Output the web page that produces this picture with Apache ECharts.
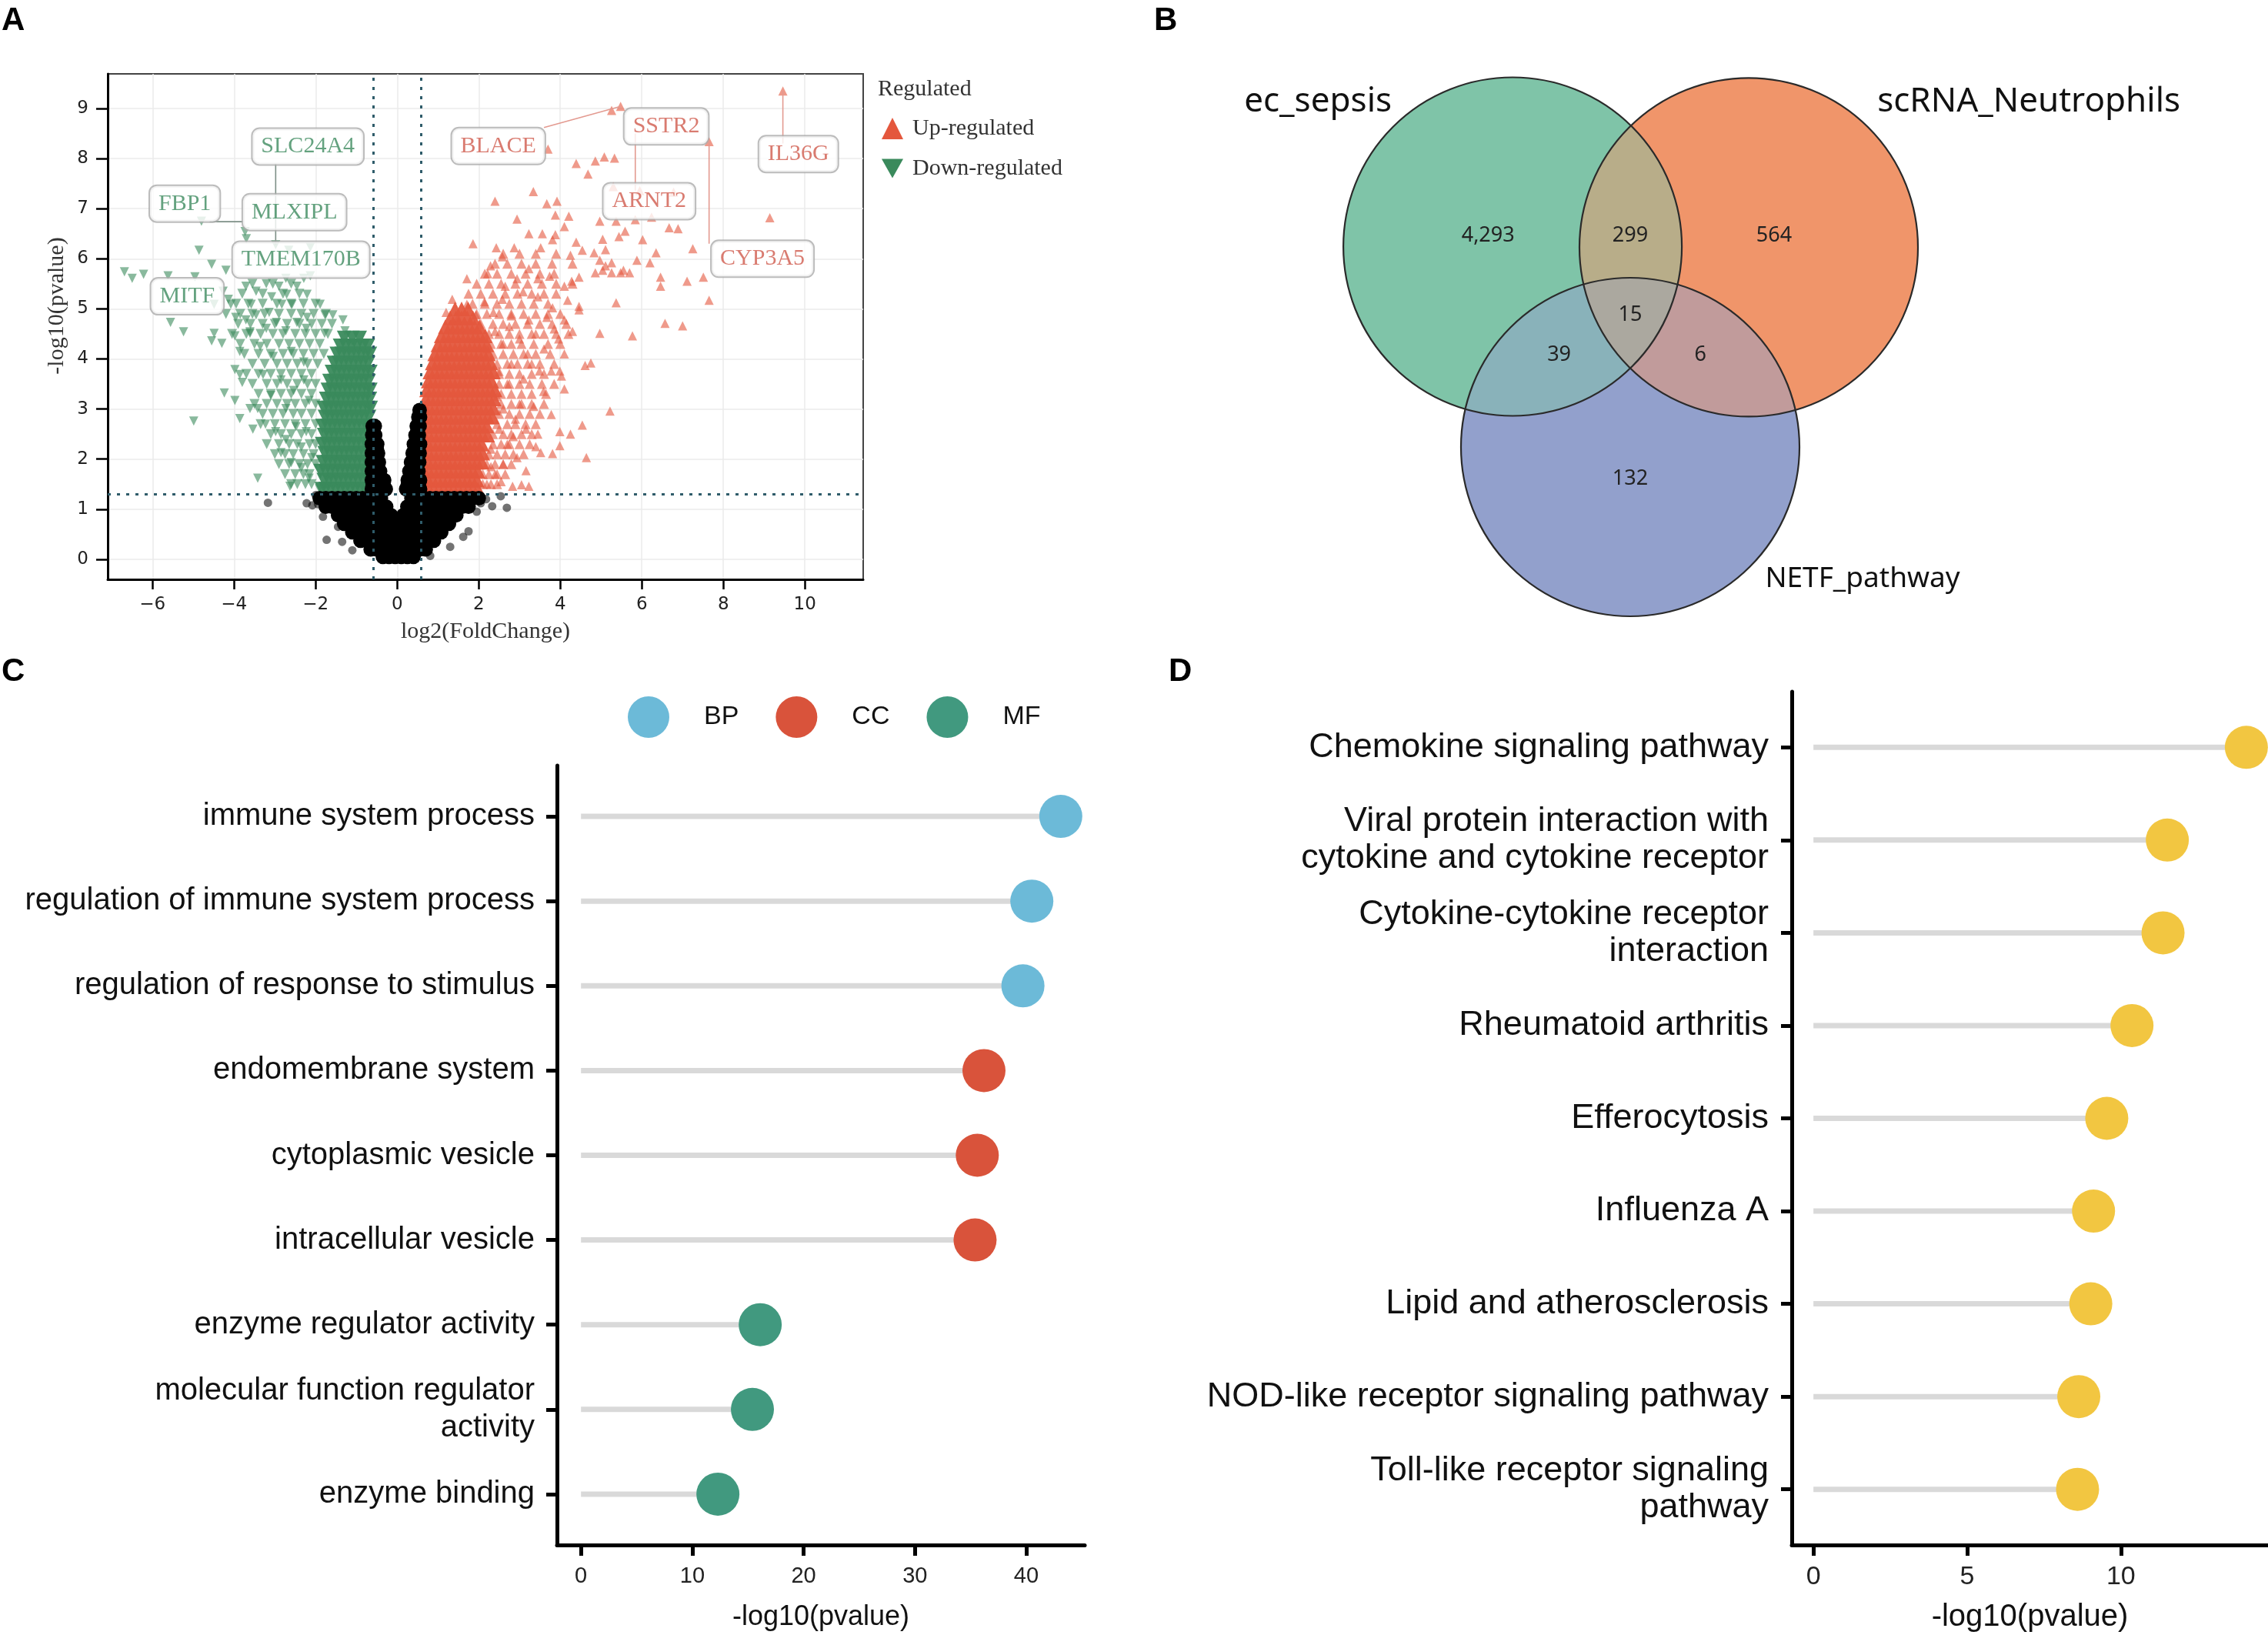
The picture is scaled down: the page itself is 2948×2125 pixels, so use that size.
<!DOCTYPE html>
<html><head><meta charset="utf-8">
<script src="https://cdn.jsdelivr.net/npm/echarts@6/dist/echarts.min.js"></script>
<style>html,body{margin:0;padding:0;background:#fff}#main{width:2948px;height:2125px}</style>
</head><body><div id="main"></div>
<script>
// ================= Panel A : volcano =================
const volcanoXTicks = [-6,-4,-2,0,2,4,6,8,10];
const volcanoYTicks = [0,1,2,3,4,5,6,7,8,9];
const fcCutoff = 0.585;
const pCutoff = 1.301;

const upScatter = [
[9.46,9.35],[5.48,9.04],[7.65,8.34],[5.26,8.96],[3.70,8.19],[4.39,7.90],[4.68,7.69],[4.86,7.95],[5.08,8.03],[5.33,8.01],
[3.34,7.34],[2.40,7.15],[3.67,7.10],[3.92,7.15],[2.94,6.79],[3.88,6.87],[4.21,6.85],[9.14,6.82],[6.67,6.62],[6.89,6.60],
[1.86,6.30],[3.23,6.50],[3.56,6.50],[7.25,6.20],[6.02,6.38],[6.35,6.12],[5.88,5.97],[6.20,5.92],[6.46,5.63],[6.46,5.45],
[7.11,5.55],[7.51,5.63],[7.65,5.17],[5.37,5.12],[6.57,4.71],[7.00,4.66],[5.30,7.44],[5.95,7.36],[6.78,7.33],[4.97,6.75],
[5.37,6.75],[5.59,6.55],[5.84,6.78],[6.24,6.83],[5.04,6.39],[5.44,6.44],[5.11,6.18],[5.26,5.92],[5.70,5.72],[4.86,5.72],
[5.04,5.77],[5.26,5.72],[5.48,5.72],[4.46,5.63],[4.28,5.55],[4.10,5.45],[4.18,5.17],[4.46,5.05],[3.81,5.02],
[1.71,5.60],[2.29,5.86],[2.43,6.22],[2.58,6.04],[2.87,6.22],[3.52,6.22],[3.81,6.38],[3.88,6.48],[4.10,6.64],[4.39,6.33],
[4.54,6.17],[4.25,6.07],[4.83,6.12],[4.97,5.97],[5.11,5.86],[5.55,5.77],[3.23,5.80],[2.94,5.60],[3.45,5.60],[3.74,5.65],
[2.22,5.70],[2.65,5.45],[3.09,5.34],[3.45,5.24],[2.58,5.19],[2.14,5.14],[1.71,5.09],[1.35,5.19],[1.20,4.93],[1.49,4.83],
[1.93,4.88],[2.36,4.93],[2.80,4.86],[3.23,4.78],[3.67,4.83],[4.10,4.78],[4.46,4.98],
[4.97,4.51],[5.77,4.46],[5.22,2.96],[4.64,2.03],[4.54,2.68],[4.25,2.50],[3.99,2.55],[3.99,2.27],[3.81,2.11],[4.75,3.92],
[4.61,3.87],[4.10,3.40],[4.03,3.66],[3.78,2.89],[3.59,3.35],[3.45,2.50],[3.49,3.76],[3.78,3.76],[3.99,3.76],[4.10,4.10],
[3.96,4.40],[2.83,1.46],[3.05,1.49],[3.23,1.46],[3.16,1.77],[2.94,2.03],[3.52,2.13],[3.16,2.60],
[2.20,1.50],[2.40,1.70],[2.60,1.90],[2.30,2.20],[2.70,2.30],[2.50,2.60],[2.90,2.80],[2.60,3.00],[3.00,3.10],[2.70,3.50],
[3.10,3.60],[2.80,3.90],[3.20,4.10],[2.60,4.30],[3.00,4.40],[3.40,4.50],[2.40,4.55],[2.20,4.20],[2.50,3.75],[2.45,3.25],
[3.30,3.90],[3.60,4.20],[3.85,4.60],[4.30,4.55],[2.75,4.65],[3.35,3.05],[2.85,2.45],[2.30,1.85],[2.55,1.55],[3.40,2.25]
];
const upMidRows = [
[1.50,[2.10,2.30,2.45]],
[1.70,[2.10,2.25,2.45,2.65]],
[1.90,[2.20,2.40,2.60,2.80]],
[2.10,[2.25,2.45,2.65,2.85,3.10]],
[2.30,[2.35,2.55,2.75,3.00,3.25]],
[2.50,[2.35,2.60,2.80,3.05,3.30]],
[2.70,[2.45,2.70,2.90,3.15,3.40]],
[2.90,[2.50,2.75,3.00,3.25,3.50]],
[3.10,[2.55,2.80,3.05,3.30,3.60]],
[3.30,[2.55,2.80,3.05,3.30,3.65]],
[3.50,[2.50,2.75,3.00,3.25,3.55,3.85]],
[3.70,[2.50,2.75,3.00,3.30,3.60]],
[3.90,[2.45,2.70,2.95,3.20,3.50,3.85]],
[4.10,[2.35,2.60,2.85,3.10,3.40,3.75]],
[4.30,[2.30,2.55,2.80,3.05,3.35,3.70,4.00]],
[4.50,[2.25,2.50,2.75,3.00,3.30,3.60,3.90,4.20]],
[4.70,[2.05,2.35,2.60,2.90,3.20,3.50,3.80,4.15]],
[4.90,[1.95,2.20,2.50,2.80,3.10,3.40,3.70,4.00]],
[5.10,[1.85,2.15,2.45,2.75,3.05,3.35,3.70]],
[5.30,[1.75,2.05,2.35,2.65,2.95,3.30,3.60,3.90]],
[5.50,[1.95,2.25,2.55,2.90,3.20,3.55,3.90,4.30]],
[5.70,[2.15,2.45,2.80,3.15,3.50,3.85]],
[5.90,[2.40,2.70,3.05,3.40,3.80,4.30]],
[6.10,[2.60,3.00,3.40,3.90]]
];
const upCoreRows = [
[1.40,[0.66,0.78,0.90,1.02,1.14,1.26,1.38,1.50,1.62,1.74,1.86,1.98]],
[1.58,[0.64,0.76,0.88,1.00,1.12,1.24,1.36,1.48,1.60,1.72,1.84,1.96]],
[1.76,[0.66,0.78,0.90,1.02,1.14,1.26,1.38,1.50,1.62,1.74,1.86,1.98]],
[1.94,[0.64,0.76,0.88,1.00,1.12,1.24,1.36,1.48,1.60,1.72,1.84,1.96,2.08]],
[2.12,[0.66,0.78,0.90,1.02,1.14,1.26,1.38,1.50,1.62,1.74,1.86,1.98,2.10]],
[2.30,[0.64,0.76,0.88,1.00,1.12,1.24,1.36,1.48,1.60,1.72,1.84,1.96,2.08]],
[2.48,[0.66,0.78,0.90,1.02,1.14,1.26,1.38,1.50,1.62,1.74,1.86,1.98,2.10,2.22]],
[2.66,[0.64,0.76,0.88,1.00,1.12,1.24,1.36,1.48,1.60,1.72,1.84,1.96,2.08,2.20]],
[2.84,[0.66,0.78,0.90,1.02,1.14,1.26,1.38,1.50,1.62,1.74,1.86,1.98,2.10,2.22,2.34]],
[3.02,[0.68,0.80,0.92,1.04,1.16,1.28,1.40,1.52,1.64,1.76,1.88,2.00,2.12,2.24,2.36]],
[3.20,[0.70,0.82,0.94,1.06,1.18,1.30,1.42,1.54,1.66,1.78,1.90,2.02,2.14,2.26,2.38]],
[3.38,[0.72,0.84,0.96,1.08,1.20,1.32,1.44,1.56,1.68,1.80,1.92,2.04,2.16,2.28,2.40]],
[3.56,[0.76,0.88,1.00,1.12,1.24,1.36,1.48,1.60,1.72,1.84,1.96,2.08,2.20,2.32]],
[3.74,[0.80,0.92,1.04,1.16,1.28,1.40,1.52,1.64,1.76,1.88,2.00,2.12,2.24,2.36]],
[3.92,[0.86,0.98,1.10,1.22,1.34,1.46,1.58,1.70,1.82,1.94,2.06,2.18,2.30]],
[4.10,[0.92,1.04,1.16,1.28,1.40,1.52,1.64,1.76,1.88,2.00,2.12,2.24]],
[4.28,[1.00,1.12,1.24,1.36,1.48,1.60,1.72,1.84,1.96,2.08,2.20]],
[4.46,[1.08,1.20,1.32,1.44,1.56,1.68,1.80,1.92,2.04,2.16]],
[4.64,[1.18,1.30,1.42,1.54,1.66,1.78,1.90,2.02]],
[4.82,[1.30,1.44,1.58,1.72,1.86]],
[5.00,[1.42,1.58,1.74]]
];
const downScatter = [
[-6.69,5.74],[-6.50,5.61],[-6.22,5.69],[-5.62,5.66],[-4.96,5.64],[-4.80,6.75],[-4.86,6.17],[-4.55,5.89],[-3.73,6.54],[-3.70,6.40],
[-4.20,5.77],[-5.56,4.73],[-5.24,4.54],[-4.49,5.09],[-2.98,6.28],[-2.66,6.17],[-2.13,6.23],[-2.29,5.61],[-2.73,5.61],[-2.13,5.66],
[-3.71,5.45],[-3.46,5.35],[-3.21,5.50],[-2.90,5.45],[-2.71,5.29],[-2.46,5.45],[-2.21,5.29],[-1.89,5.09],[-1.58,4.88],[-1.33,4.78],
[-2.83,5.09],[-3.14,4.93],[-3.46,4.88],[-3.71,4.78],[-4.08,5.09],[-3.96,4.83],[-4.27,5.35],[-4.14,5.19],[-3.08,5.24],[-2.58,5.09],
[-2.21,4.83],[-1.77,4.88],[-2.46,4.73],[-2.96,4.73],[-3.58,5.09],
[-4.49,4.51],[-3.61,4.51],[-3.21,4.61],[-2.73,4.56],[-2.23,4.61],[-1.78,4.51],[-1.28,4.56],[-3.86,4.15],[-3.36,4.25],[-3.04,4.05],
[-2.60,4.15],[-2.29,3.94],[-3.29,3.69],[-2.85,3.58],[-2.54,3.37],[-3.10,3.27],[-2.73,3.01],[-3.23,2.70],[-2.98,2.55],[-2.73,2.39],
[-2.48,2.65],[-2.35,2.24],[-2.85,2.13],[-2.60,1.93],[-2.35,1.83],[-2.16,1.62],[-2.10,2.03],[-2.23,2.55],[-2.16,3.17],[-2.29,3.58],
[-1.91,1.41],[-1.72,1.62],[-4.99,2.76],[-4.24,3.32],[-3.98,3.17],[-3.86,2.81],[-3.54,2.60],[-3.42,1.62],[-2.63,1.46],[-4.55,4.36],
[-4.30,4.31],[-3.98,4.46],[-3.61,4.54],[-3.98,3.79],[-3.86,3.69],[-3.80,3.53],[-3.61,3.01],[-3.42,3.01]
];
const downMidRows = [
[1.50,[-2.10,-2.25,-2.45,-2.60]],
[1.70,[-2.15,-2.30,-2.50,-2.75]],
[1.90,[-2.00,-2.20,-2.40,-2.65,-2.90]],
[2.10,[-2.05,-2.30,-2.55,-2.75,-3.00]],
[2.30,[-2.00,-2.15,-2.45,-2.65,-2.90,-3.20]],
[2.50,[-2.10,-2.35,-2.60,-2.85,-3.10]],
[2.70,[-2.00,-2.25,-2.50,-2.75,-3.00,-3.35]],
[2.90,[-2.10,-2.35,-2.55,-2.80,-3.05,-3.30]],
[3.10,[-2.00,-2.25,-2.50,-2.70,-2.95,-3.20,-3.50]],
[3.30,[-2.10,-2.35,-2.60,-2.85,-3.10,-3.40]],
[3.50,[-2.00,-2.20,-2.45,-2.70,-2.95,-3.20,-3.55]],
[3.70,[-2.10,-2.35,-2.60,-2.85,-3.10,-3.40,-3.70]],
[3.90,[-1.95,-2.20,-2.45,-2.70,-2.95,-3.25,-3.55]],
[4.10,[-1.80,-2.05,-2.30,-2.55,-2.80,-3.10,-3.40,-3.75]],
[4.30,[-1.90,-2.15,-2.40,-2.65,-2.90,-3.20,-3.50,-3.85]],
[4.50,[-1.70,-2.00,-2.25,-2.50,-2.80,-3.05,-3.35,-3.70,-4.05]],
[4.70,[-1.60,-1.85,-2.10,-2.40,-2.70,-3.00,-3.30,-3.60,-3.90]],
[4.90,[-1.75,-2.05,-2.35,-2.60,-2.90,-3.25,-3.55,-3.85,-4.20]],
[5.10,[-2.00,-2.30,-2.60,-2.95,-3.30,-3.65,-3.95]],
[5.30,[-2.40,-2.80,-3.30,-3.80]],
[5.50,[-2.60,-3.05,-3.55]]
];
const downCoreRows = [
[1.40,[-1.85,-1.75,-1.63,-1.51,-1.39,-1.27,-1.15,-1.03,-0.91,-0.79,-0.67]],
[1.58,[-1.80,-1.68,-1.56,-1.44,-1.32,-1.20,-1.08,-0.96,-0.84,-0.72,-0.65]],
[1.76,[-1.88,-1.76,-1.64,-1.52,-1.40,-1.28,-1.16,-1.04,-0.92,-0.80,-0.68]],
[1.94,[-1.82,-1.70,-1.58,-1.46,-1.34,-1.22,-1.10,-0.98,-0.86,-0.74,-0.66]],
[2.12,[-1.78,-1.66,-1.54,-1.42,-1.30,-1.18,-1.06,-0.94,-0.82,-0.70]],
[2.30,[-1.84,-1.72,-1.60,-1.48,-1.36,-1.24,-1.12,-1.00,-0.88,-0.76,-0.66]],
[2.48,[-1.79,-1.67,-1.55,-1.43,-1.31,-1.19,-1.07,-0.95,-0.83,-0.71]],
[2.66,[-1.83,-1.71,-1.59,-1.47,-1.35,-1.23,-1.11,-0.99,-0.87,-0.75,-0.66]],
[2.84,[-1.77,-1.65,-1.53,-1.41,-1.29,-1.17,-1.05,-0.93,-0.81,-0.69]],
[3.02,[-1.80,-1.68,-1.56,-1.44,-1.32,-1.20,-1.08,-0.96,-0.84,-0.72,-0.65]],
[3.20,[-1.74,-1.62,-1.50,-1.38,-1.26,-1.14,-1.02,-0.90,-0.78,-0.67]],
[3.38,[-1.70,-1.58,-1.46,-1.34,-1.22,-1.10,-0.98,-0.86,-0.74,-0.66]],
[3.56,[-1.66,-1.54,-1.42,-1.30,-1.18,-1.06,-0.94,-0.82,-0.70]],
[3.74,[-1.60,-1.48,-1.36,-1.24,-1.12,-1.00,-0.88,-0.76,-0.66]],
[3.92,[-1.55,-1.43,-1.31,-1.19,-1.07,-0.95,-0.83,-0.71]],
[4.10,[-1.48,-1.36,-1.24,-1.12,-1.00,-0.88,-0.76,-0.67]],
[4.26,[-1.40,-1.26,-1.12,-0.98,-0.84,-0.72]],
[4.42,[-1.30,-1.10,-0.92]]
];
const nsScatter = [
[-3.17,1.13],[-2.22,1.12],[-2.08,1.08],[-1.94,1.10],[-1.82,0.85],[-1.73,0.39],[-1.45,0.65],[-1.70,1.18],[-1.90,1.24],[-2.00,1.28],
[2.54,1.26],[2.69,1.03],[2.33,1.06],[2.18,1.20],[2.05,1.12],[1.75,0.56],[0.81,0.07],[1.95,0.95],[1.62,0.45],[-1.35,0.35],
[1.30,0.25],[-1.10,0.18]
];
const nsCoreRows = [
[1.22,[-1.90,-1.75,-1.60,-1.45,-1.30,-1.15,-1.00,-0.85,-0.70,-0.55,-0.40,0.35,0.50,0.65,0.80,0.95,1.10,1.25,1.40,1.55,1.70,1.85,2.00]],
[1.05,[-1.75,-1.60,-1.45,-1.30,-1.15,-1.00,-0.85,-0.70,-0.55,-0.40,-0.27,0.25,0.40,0.55,0.70,0.85,1.00,1.15,1.30,1.45,1.60,1.75]],
[0.88,[-1.45,-1.30,-1.15,-1.00,-0.85,-0.70,-0.55,-0.40,-0.25,-0.15,0.15,0.25,0.40,0.55,0.70,0.85,1.00,1.15,1.30,1.45]],
[0.71,[-1.30,-1.15,-1.00,-0.85,-0.70,-0.55,-0.40,-0.25,-0.12,0.10,0.22,0.37,0.52,0.67,0.82,0.97,1.12,1.27]],
[0.54,[-1.10,-0.95,-0.80,-0.65,-0.50,-0.35,-0.20,-0.08,0.06,0.18,0.33,0.48,0.63,0.78,0.93,1.08]],
[0.37,[-0.90,-0.75,-0.60,-0.45,-0.30,-0.15,0.00,0.15,0.30,0.45,0.60,0.75,0.90]],
[0.20,[-0.65,-0.50,-0.35,-0.20,-0.05,0.10,0.25,0.40,0.55,0.70]],
[0.05,[-0.35,-0.20,-0.05,0.10,0.25,0.40]],
[1.40,[-0.62,-0.50,-0.38,-0.28,0.22,0.34,0.46,0.56]],
[1.49,[-0.60,-0.46,-0.33,0.26,0.40,0.53]],
[1.58,[-0.62,-0.51,-0.40,-0.32,0.26,0.37,0.48,0.56]],
[1.76,[-0.62,-0.52,-0.42,0.30,0.41,0.52]],
[1.85,[-0.58,-0.47,0.36,0.48]],
[1.94,[-0.62,-0.53,-0.45,0.34,0.44,0.54]],
[2.12,[-0.62,-0.54,-0.47,0.38,0.47,0.55]],
[2.21,[-0.58,-0.50,0.44,0.52]],
[2.30,[-0.62,-0.55,-0.49,0.41,0.49,0.56]],
[2.48,[-0.61,-0.54,0.45,0.53]],
[2.57,[-0.58,0.50]],
[2.66,[-0.60,-0.55,0.48,0.55]],
[2.84,[0.52,0.56]],
[2.98,[0.55]]
];
const labelGenes = ['SLC24A4','FBP1','MLXIPL','TMEM170B','MITF','BLACE','SSTR2','ARNT2','IL36G','CYP3A5'];
const labelRegulation = ['down','down','down','down','down','up','up','up','up','up'];
const labelPoints = [[-2.98,6.28],[-3.79,6.74],[-3.70,6.51],[-2.66,6.17],[-4.49,5.09],[5.48,9.04],[5.84,7.36],[6.10,7.00],[9.46,9.35],[7.65,8.34]];
// layout of the repelled label boxes (data units)
const labelBoxAt = [[-2.19,8.24],[-5.21,7.10],[-2.52,6.93],[-2.36,5.98],[-5.15,5.25],[2.48,8.25],[6.60,8.64],[6.18,7.15],[9.84,8.09],[8.96,6.00]];
const labelSegEnd = [[-2.98,7.9],[-4.6,6.74],null,null,null,[3.6,8.62],[5.84,8.5],null,[9.46,8.3],[7.65,6.3]];

// ================= Panel B : Venn =================
const vennSets = ['ec_sepsis','scRNA_Neutrophils','NETF_pathway'];
const vennRegionSets = [[0],[0,1],[1],[0,1,2],[0,2],[1,2],[2]];
const vennCounts = [4293,299,564,15,39,6,132];

// ================= Panel C : GO =================
const goTerms = ['immune system process','regulation of immune system process','regulation of response to stimulus','endomembrane system','cytoplasmic vesicle','intracellular vesicle','enzyme regulator activity','molecular function regulator\nactivity','enzyme binding'];
const goValues = [43.1,40.5,39.7,36.2,35.6,35.4,16.1,15.4,12.3];
const goClass = ['BP','BP','BP','CC','CC','CC','MF','MF','MF'];
const goClassNames = ['BP','CC','MF'];
const goTicks = [0,10,20,30,40];

// ================= Panel D : KEGG =================
const keggTerms = ['Chemokine signaling pathway','Viral protein interaction with\ncytokine and cytokine receptor','Cytokine-cytokine receptor\ninteraction','Rheumatoid arthritis','Efferocytosis','Influenza A','Lipid and atherosclerosis','NOD-like receptor signaling pathway','Toll-like receptor signaling\npathway'];
const keggValues = [14.08,11.51,11.37,10.36,9.54,9.11,9.02,8.63,8.59];
const keggTicks = [0,5,10];

// ---------------- styles / layout ----------------
const UP = '#e4573d', DOWN = '#3a8a5c';
const SERIF = '"Liberation Serif", "Times New Roman", serif';
const SANS = '"Liberation Sans", Arial, sans-serif';
const DJ = '"DejaVu Sans", sans-serif';
const VENNF = '"Noto Sans", "Open Sans", sans-serif';
const goColors = {BP:'#6cbad8', CC:'#d9533b', MF:'#41997f'};
const keggColor = '#f2c641';
const vennColors = ['#7fc4a8','#f0956a','#92a0cc'];
const vennCircleAt = [[-0.695,1.184],[0.70,1.18],[0,0]];
const vennR = 1.0;
const vennCountAt = [[-0.84,1.25],[0,1.25],[0.85,1.25],[0,0.78],[-0.42,0.545],[0.415,0.545],[0,-0.19]];
const vennNameAt = [[-1.845,2.04],[2.355,2.04],[1.373,-0.78]];
const vennNameSize = [44,44,37];
const downTri = 'path://M0,0L10,0L5,9Z';

const flatten = rows => rows.flatMap(r => r[1].map(x => [x, r[0]]));

function hex(c){ return [parseInt(c.slice(1,3),16),parseInt(c.slice(3,5),16),parseInt(c.slice(5,7),16)]; }
function mixColors(idx){
  const s=[0,0,0]; idx.forEach(i=>{const c=hex(vennColors[i]); s[0]+=c[0];s[1]+=c[1];s[2]+=c[2];});
  return 'rgb('+s.map(v=>Math.round(v/idx.length)).join(',')+')';
}
function regionPoly(idx, api){
  const pts=[]; const N=720;
  idx.forEach(i=>{
    const c=vennCircleAt[i];
    for(let k=0;k<N;k++){
      const a=k/N*2*Math.PI; const p=[c[0]+vennR*Math.cos(a), c[1]+vennR*Math.sin(a)];
      const ok = idx.every(j=> j===i || ((p[0]-vennCircleAt[j][0])**2+(p[1]-vennCircleAt[j][1])**2 <= vennR*vennR+1e-9));
      if(ok) pts.push(api.coord(p));
    }
  });
  let cx=0,cy=0; pts.forEach(p=>{cx+=p[0];cy+=p[1];}); cx/=pts.length; cy/=pts.length;
  pts.sort((a,b)=>Math.atan2(a[1]-cy,a[0]-cx)-Math.atan2(b[1]-cy,b[0]-cx));
  return pts;
}
function renderVenn(params, api){
  const children=[];
  const rpx = api.size([vennR, vennR])[0];
  vennCircleAt.forEach((c,i)=>{ const p=api.coord(c); children.push({type:'circle',shape:{cx:p[0],cy:p[1],r:rpx},style:{fill:vennColors[i]}}); });
  [[0,1],[0,2],[1,2],[0,1,2]].forEach(idx=>{
    children.push({type:'polygon',shape:{points:regionPoly(idx,api)},style:{fill:mixColors(idx)}});
  });
  vennCircleAt.forEach((c,i)=>{ const p=api.coord(c); children.push({type:'circle',shape:{cx:p[0],cy:p[1],r:rpx},style:{fill:'none',stroke:'#2a2a2a',lineWidth:2.2}}); });
  vennCounts.forEach((n,i)=>{ const p=api.coord(vennCountAt[i]);
    children.push({type:'text',x:p[0],y:p[1],style:{text:n.toLocaleString('en-US'),fill:'#222',fontSize:27,fontFamily:VENNF,align:'center',verticalAlign:'middle',textAlign:'center',textVerticalAlign:'middle'}}); });
  vennSets.forEach((s,i)=>{ const p=api.coord(vennNameAt[i]);
    children.push({type:'text',x:p[0],y:p[1],style:{text:s,fill:'#111',fontSize:vennNameSize[i],fontFamily:VENNF,align:'center',verticalAlign:'middle',textAlign:'center',textVerticalAlign:'middle'}}); });
  return {type:'group',children};
}
function renderSeg(params, api){
  const p0=api.coord([api.value(0),api.value(1)]), p1=api.coord([api.value(2),api.value(3)]);
  return {type:'line',shape:{x1:p0[0],y1:p0[1],x2:p1[0],y2:p1[1]},style:{stroke:api.value(4)===1?'#e39a90':'#7d8f86',lineWidth:1.6}};
}
function renderStick(params, api){
  const p0=api.coord([0,api.value(1)]), p1=api.coord([api.value(0),api.value(1)]);
  return {type:'line',shape:{x1:p0[0],y1:p0[1],x2:p1[0],y2:p1[1]},style:{stroke:'#d9d9d9',lineWidth:7}};
}

const minus = v => String(v).replace('-', '\u2212');
const goMax = Math.max(...goValues), keggMax = Math.max(...keggValues);

const option = {
  animation:false,
  backgroundColor:'#fff',
  grid:[
    {left:140, top:96, width:982, height:657, show:true, borderColor:'#444', borderWidth:2, outerBoundsMode:'none'},
    {left:1459, top:53, width:1320, height:792, outerBoundsMode:'none'},
    {left:724, top:995, width:686, height:1013, outerBoundsMode:'none'},
    {left:2329, top:899, width:619, height:1109, outerBoundsMode:'none'}
  ],
  xAxis:[
    {gridIndex:0, type:'value', min:-7.1, max:11.43,
     axisLine:{onZero:false, lineStyle:{color:'#000', width:3}},
     axisTick:{customValues:volcanoXTicks, length:13, lineStyle:{color:'#000', width:2.5}},
     axisLabel:{customValues:volcanoXTicks, formatter:minus, fontFamily:DJ, fontSize:23, color:'#222', margin:22},
     splitLine:{show:true, lineStyle:{color:'#ebebeb', width:1.5}},
     name:'log2(FoldChange)', nameLocation:'middle', nameGap:53, nameTextStyle:{fontFamily:SERIF, fontSize:30, color:'#333'}},
    {gridIndex:1, type:'value', min:-3, max:3, show:false},
    {gridIndex:2, type:'value', min:-0.05*goMax, max:goMax*1.05,
     axisLine:{onZero:false, lineStyle:{color:'#000', width:5}},
     axisTick:{customValues:goTicks, length:14, lineStyle:{color:'#000', width:5}},
     axisLabel:{customValues:goTicks, fontFamily:SANS, fontSize:29, color:'#222', margin:26},
     splitLine:{show:false},
     name:'-log10(pvalue)', nameLocation:'middle', nameGap:76, nameTextStyle:{fontFamily:SANS, fontSize:36, color:'#111'}},
    {gridIndex:3, type:'value', min:-0.05*keggMax, max:keggMax*1.05,
     axisLine:{onZero:false, lineStyle:{color:'#000', width:5}},
     axisTick:{customValues:keggTicks, length:14, lineStyle:{color:'#000', width:5}},
     axisLabel:{customValues:keggTicks, fontFamily:SANS, fontSize:34, color:'#222', margin:25},
     splitLine:{show:false},
     name:'-log10(pvalue)', nameLocation:'middle', nameGap:74, nameTextStyle:{fontFamily:SANS, fontSize:40, color:'#111'}}
  ],
  yAxis:[
    {gridIndex:0, type:'value', min:-0.40, max:9.69,
     axisLine:{onZero:false, lineStyle:{color:'#000', width:3}},
     axisTick:{customValues:volcanoYTicks, length:15, lineStyle:{color:'#000', width:2.5}},
     axisLabel:{customValues:volcanoYTicks, fontFamily:DJ, fontSize:23, color:'#222', margin:25},
     splitLine:{show:true, lineStyle:{color:'#ebebeb', width:1.5}},
     name:'-log10(pvalue)', nameLocation:'middle', nameGap:51, nameTextStyle:{fontFamily:SERIF, fontSize:30, color:'#333', padding:[0,0,0,54]}},
    {gridIndex:1, type:'value', min:-1.2, max:2.4, show:false},
    {gridIndex:2, type:'value', min:-0.6, max:goTerms.length-0.4, inverse:true,
     axisLine:{onZero:false, lineStyle:{color:'#000', width:5}},
     axisTick:{customValues:goTerms.map((t,i)=>i), length:14, lineStyle:{color:'#000', width:5}},
     axisLabel:{customValues:goTerms.map((t,i)=>i), formatter:v=>goTerms[Math.round(v)], fontFamily:SANS, fontSize:40, color:'#111', margin:29, lineHeight:48, align:'right'},
     splitLine:{show:false}},
    {gridIndex:3, type:'value', min:-0.6, max:keggTerms.length-0.4, inverse:true,
     axisLine:{onZero:false, lineStyle:{color:'#000', width:5}},
     axisTick:{customValues:keggTerms.map((t,i)=>i), length:14, lineStyle:{color:'#000', width:5}},
     axisLabel:{customValues:keggTerms.map((t,i)=>i), formatter:v=>keggTerms[Math.round(v)], fontFamily:SANS, fontSize:45, color:'#111', margin:30, lineHeight:48, align:'right'},
     splitLine:{show:false}}
  ],
  legend:[
    {left:1141, top:147, orient:'vertical', itemWidth:28, itemHeight:28, itemGap:22,
     data:[{name:'Up-regulated', icon:'triangle', itemStyle:{color:UP, opacity:1}},
           {name:'Down-regulated', icon:downTri, itemStyle:{color:DOWN, opacity:1}}],
     textStyle:{fontFamily:SERIF, fontSize:30, color:'#333', padding:[0,0,0,7]}},
    {left:811, top:900, orient:'horizontal', itemWidth:54, itemHeight:54, itemGap:48, icon:'circle',
     data:goClassNames,
     textStyle:{fontFamily:SANS, fontSize:34, color:'#111', padding:[0,0,0,40]}}
  ],
  graphic:[
    {type:'text', left:2, top:6, style:{text:'A', font:'bold 42px "Liberation Sans"', fill:'#000'}},
    {type:'text', left:1500, top:6, style:{text:'B', font:'bold 42px "Liberation Sans"', fill:'#000'}},
    {type:'text', left:2, top:852, style:{text:'C', font:'bold 42px "Liberation Sans"', fill:'#000'}},
    {type:'text', left:1519, top:852, style:{text:'D', font:'bold 42px "Liberation Sans"', fill:'#000'}},
    {type:'text', left:1141, top:101, style:{text:'Regulated', font:'30px "Liberation Serif"', fill:'#333'}}
  ],
  series:[
    {type:'scatter', name:'Down-regulated', xAxisIndex:0, yAxisIndex:0, data:downScatter, symbol:downTri, symbolSize:12, itemStyle:{color:DOWN, opacity:0.6}, z:2},
    {type:'scatter', name:'Down-regulated', xAxisIndex:0, yAxisIndex:0, data:flatten(downMidRows), symbol:downTri, symbolSize:13, itemStyle:{color:DOWN, opacity:0.6}, z:2},
    {type:'scatter', name:'Up-regulated', xAxisIndex:0, yAxisIndex:0, data:upScatter, symbol:'triangle', symbolSize:12, itemStyle:{color:UP, opacity:0.6}, z:2},
    {type:'scatter', name:'Up-regulated', xAxisIndex:0, yAxisIndex:0, data:flatten(upMidRows), symbol:'triangle', symbolSize:13, itemStyle:{color:UP, opacity:0.6}, z:2},
    {type:'scatter', name:'Down-regulated', xAxisIndex:0, yAxisIndex:0, data:flatten(downCoreRows), symbol:downTri, symbolSize:19, itemStyle:{color:DOWN, opacity:0.95}, z:2},
    {type:'scatter', name:'Up-regulated', xAxisIndex:0, yAxisIndex:0, data:flatten(upCoreRows), symbol:'triangle', symbolSize:19, itemStyle:{color:UP, opacity:0.95}, z:2},
    {type:'scatter', name:'Not significant', xAxisIndex:0, yAxisIndex:0, data:nsScatter, symbol:'circle', symbolSize:11, itemStyle:{color:'#000', opacity:0.55}, z:2},
    {type:'scatter', name:'Not significant', xAxisIndex:0, yAxisIndex:0, data:flatten(nsCoreRows), symbol:'circle', symbolSize:19, itemStyle:{color:'#000', opacity:1}, z:2,
     markLine:{silent:true, symbol:'none', label:{show:false}, lineStyle:{type:[4,8], color:'#2f5c6a', width:3},
       data:[{xAxis:-fcCutoff},{xAxis:fcCutoff},{yAxis:pCutoff}]}},
    {type:'custom', name:'segments', xAxisIndex:0, yAxisIndex:0, renderItem:renderSeg, z:4,
     data:labelPoints.map((p,i)=>labelSegEnd[i]?[p[0],p[1],labelSegEnd[i][0],labelSegEnd[i][1],labelRegulation[i]==='up'?1:0]:null).filter(Boolean)},
    {type:'scatter', name:'gene labels', xAxisIndex:0, yAxisIndex:0, symbol:'circle', symbolSize:1, itemStyle:{color:'rgba(0,0,0,0)'}, z:6,
     data:labelGenes.map((g,i)=>({name:g, value:labelBoxAt[i], label:{color:labelRegulation[i]==='up'?'#cf5a4c':'#3d8b5f'}})),
     label:{show:true, position:'inside', formatter:'{b}', fontFamily:SERIF, fontSize:30, backgroundColor:'#fff', borderColor:'#ababab', borderWidth:2, borderRadius:9, padding:[9,11,7,11]}},
    {type:'custom', name:'venn', xAxisIndex:1, yAxisIndex:1, renderItem:renderVenn, data:[[0,0]], z:2},
    {type:'custom', name:'go sticks', xAxisIndex:2, yAxisIndex:2, renderItem:renderStick, data:goValues.map((v,i)=>[v,i]), z:2},
    ...goClassNames.map(c=>({type:'scatter', name:c, xAxisIndex:2, yAxisIndex:2, symbol:'circle', symbolSize:56,
      itemStyle:{color:goColors[c], opacity:1}, z:3,
      data:goValues.map((v,i)=>[v,i]).filter((d,i)=>goClass[i]===c)})),
    {type:'custom', name:'kegg sticks', xAxisIndex:3, yAxisIndex:3, renderItem:renderStick, data:keggValues.map((v,i)=>[v,i]), z:2},
    {type:'scatter', name:'KEGG', xAxisIndex:3, yAxisIndex:3, symbol:'circle', symbolSize:56, itemStyle:{color:keggColor, opacity:1}, z:3,
     data:keggValues.map((v,i)=>[v,i])}
  ]
};
const chart = echarts.init(document.getElementById('main'), null, {renderer:'canvas'});
chart.setOption(option);
</script></body></html>
